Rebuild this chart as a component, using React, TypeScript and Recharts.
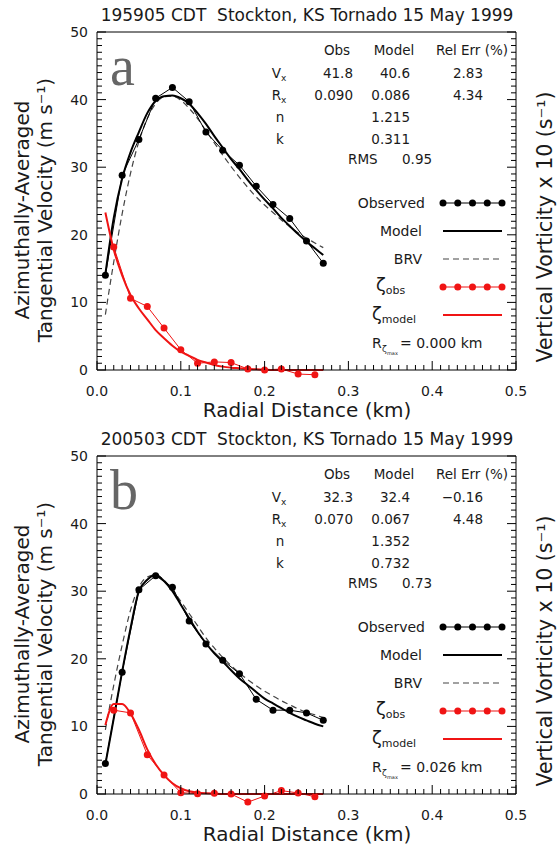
import React from "react";
import { LineChart, Line, XAxis, YAxis } from "recharts";

const W = 557;
const H = 424;
const FONT = "DejaVu Sans";
const INK = "#1a1a1a";
const RED = "#f01414";

// radial distances (km)
const obsRadius = [0.01, 0.03, 0.05, 0.07, 0.09, 0.11, 0.13, 0.15, 0.17, 0.19, 0.21, 0.23, 0.25, 0.27];
const vortRadius = [0.02, 0.04, 0.06, 0.08, 0.1, 0.12, 0.14, 0.16, 0.18, 0.2, 0.22, 0.24, 0.26];
const fitRadius = [
  0.01, 0.02, 0.03, 0.04, 0.05, 0.06, 0.07, 0.08, 0.09, 0.1, 0.11, 0.12, 0.13, 0.14,
  0.15, 0.16, 0.17, 0.18, 0.19, 0.2, 0.21, 0.22, 0.23, 0.24, 0.25, 0.26, 0.27,
];

// panel a : 195905 CDT
const obsVelA = [14.0, 28.8, 34.1, 40.2, 41.8, 39.7, 35.2, 32.5, 30.3, 27.2, 24.5, 22.4, 19.1, 15.8];
const modelVelA = [
  14.2, 22.5, 28.3, 32.2, 35.2, 38.0, 39.8, 40.5, 40.6, 40.2, 39.4, 38.0, 36.4, 34.6,
  32.9, 31.2, 29.7, 28.1, 26.6, 25.2, 23.9, 22.5, 21.3, 20.1, 19.0, 18.0, 17.0,
];
const brvVelA = [
  8.2, 16.0, 23.1, 29.1, 33.8, 37.2, 39.4, 40.4, 40.5, 39.9, 38.7, 37.2, 35.4, 33.6,
  31.8, 30.1, 28.5, 27.0, 25.6, 24.4, 23.3, 22.2, 21.2, 20.3, 19.5, 18.8, 18.1,
];
const vortObsA = [18.2, 10.6, 9.4, 6.2, 3.0, 1.0, 1.2, 1.1, 0.15, 0.0, 0.15, -0.6, -0.7];
const vortModelA = [
  23.3, 17.8, 14.0, 11.1, 9.1, 7.5, 5.9, 4.7, 3.6, 2.7, 2.1, 1.5, 1.1, 0.75,
  0.5, 0.35, 0.25, 0.15, 0.1, 0.05, 0.0, 0.0, 0.0, 0.0, 0.0, 0.0, 0.0,
];

// panel b : 200503 CDT
const obsVelB = [4.5, 18.0, 30.2, 32.3, 30.6, 25.6, 22.2, 19.8, 17.8, 14.0, 12.4, 12.4, 12.0, 10.9];
const modelVelB = [
  4.4, 11.2, 18.1, 24.5, 30.0, 31.7, 32.4, 31.5, 30.0, 28.0, 26.0, 24.0, 22.3, 20.8,
  19.6, 18.3, 17.1, 16.1, 15.1, 14.1, 13.4, 12.7, 12.0, 11.4, 10.9, 10.4, 10.0,
];
const brvVelB = [
  9.5, 16.1, 22.0, 27.2, 30.6, 32.1, 32.4, 31.6, 30.2, 28.5, 26.7, 24.9, 23.1, 21.6,
  20.2, 19.0, 17.9, 16.9, 16.0, 15.2, 14.5, 13.8, 13.2, 12.6, 12.1, 11.7, 11.3,
];
const vortObsB = [12.4, 12.0, 5.8, 2.8, 0.2, 0.05, 0.1, 0.0, -1.2, -0.3, 0.5, 0.15, -0.4];
const vortModelB = [
  10.2, 13.3, 13.3, 11.9, 9.5, 6.6, 4.4, 2.8, 1.6, 0.85, 0.4, 0.2, 0.1, 0.05,
  0.0, 0.0, 0.0, 0.0, 0.0, 0.0, 0.0, 0.0, 0.0, 0.0, 0.0, 0.0, 0.0,
];

// axes
const xTickLabels = ["0.0", "0.1", "0.2", "0.3", "0.4", "0.5"];
const yTickLabels = ["0", "10", "20", "30", "40", "50"];
const xTicks = Array.from({ length: 51 }, (_, i) => i / 100);
const yTicks = Array.from({ length: 51 }, (_, i) => i);

const pts = (rs: number[], vs: number[]) => rs.map((r, i) => ({ r, v: vs[i] }));
const isMajor = (v: number, step: number) => Math.abs(v / step - Math.round(v / step)) < 1e-6;

function BottomTick(p: any) {
  const major = isMajor(p.payload.value, 0.1);
  return (
    <g>
      <line x1={p.x} y1={p.y} x2={p.x} y2={p.y - (major ? 9 : 5)} stroke="#000" />
      {major && (
        <text x={p.x} y={p.y + 26} textAnchor="middle" fontSize={14} fontFamily={FONT} fill={INK}>
          {xTickLabels[Math.round(p.payload.value * 10)]}
        </text>
      )}
    </g>
  );
}

function TopTick(p: any) {
  const major = isMajor(p.payload.value, 0.1);
  return <line x1={p.x} y1={p.y} x2={p.x} y2={p.y + (major ? 9 : 5)} stroke="#000" />;
}

function LeftTick(p: any) {
  const major = isMajor(p.payload.value, 10);
  return (
    <g>
      <line x1={p.x} y1={p.y} x2={p.x + (major ? 9 : 5)} y2={p.y} stroke="#000" />
      {major && (
        <text x={p.x - 9} y={p.y + 5} textAnchor="end" fontSize={14} fontFamily={FONT} fill={INK}>
          {yTickLabels[Math.round(p.payload.value / 10)]}
        </text>
      )}
    </g>
  );
}

function RightTick(p: any) {
  const major = isMajor(p.payload.value, 10);
  return <line x1={p.x} y1={p.y} x2={p.x - (major ? 9 : 5)} y2={p.y} stroke="#000" />;
}

type PanelProps = {
  title: string;
  letter: string;
  obs: number[];
  model: number[];
  brv: number[];
  vortObs: number[];
  vortModel: number[];
  table: { obs: string[]; model: string[]; err: string[]; n: string; k: string; rms: string };
  rzeta: string;
};

function Panel(props: PanelProps) {
  const t = { fontFamily: FONT, fill: INK };
  const legendX1 = 443;
  const legendX2 = 502;
  const dotsX = [443, 457.75, 472.5, 487.25, 502];
  return (
    <div style={{ position: "relative", width: W, height: H }}>
      <LineChart width={W} height={H} margin={{ top: 31, right: 40, bottom: 34, left: 57 }}>
        <XAxis
          xAxisId="b"
          dataKey="r"
          type="number"
          domain={[0, 0.5]}
          allowDataOverflow
          ticks={xTicks}
          interval={0}
          tickSize={0}
          tickMargin={0}
          height={20}
          tick={BottomTick}
          axisLine={{ stroke: "#000" }}
        />
        <XAxis
          xAxisId="t"
          orientation="top"
          type="number"
          domain={[0, 0.5]}
          allowDataOverflow
          ticks={xTicks}
          interval={0}
          tickSize={0}
          tickMargin={0}
          height={1}
          tick={TopTick}
          axisLine={{ stroke: "#000" }}
        />
        <YAxis
          yAxisId="l"
          type="number"
          domain={[0, 50]}
          allowDataOverflow
          ticks={yTicks}
          interval={0}
          tickSize={0}
          tickMargin={0}
          width={40}
          tick={LeftTick}
          axisLine={{ stroke: "#000" }}
        />
        <YAxis
          yAxisId="r"
          orientation="right"
          type="number"
          domain={[0, 50]}
          allowDataOverflow
          ticks={yTicks}
          interval={0}
          tickSize={0}
          tickMargin={0}
          width={1}
          tick={RightTick}
          axisLine={{ stroke: "#000" }}
        />
        <Line
          xAxisId="b"
          yAxisId="l"
          data={pts(fitRadius, props.brv)}
          dataKey="v"
          type="monotone"
          stroke="#444"
          strokeWidth={1.2}
          strokeDasharray="6 4"
          dot={false}
          activeDot={false}
          isAnimationActive={false}
        />
        <Line
          xAxisId="b"
          yAxisId="l"
          data={pts(obsRadius, props.obs)}
          dataKey="v"
          type="linear"
          stroke="#000"
          strokeWidth={1}
          dot={{ r: 3.5, fill: "#000", stroke: "#000", strokeWidth: 0 }}
          activeDot={false}
          isAnimationActive={false}
        />
        <Line
          xAxisId="b"
          yAxisId="l"
          data={pts(fitRadius, props.model)}
          dataKey="v"
          type="monotone"
          stroke="#000"
          strokeWidth={2}
          dot={false}
          activeDot={false}
          isAnimationActive={false}
        />
        <Line
          xAxisId="b"
          yAxisId="l"
          data={pts(vortRadius, props.vortObs)}
          dataKey="v"
          type="linear"
          stroke={RED}
          strokeWidth={1}
          dot={{ r: 3.5, fill: RED, stroke: RED, strokeWidth: 0 }}
          activeDot={false}
          isAnimationActive={false}
        />
        <Line
          xAxisId="b"
          yAxisId="l"
          data={pts(fitRadius, props.vortModel)}
          dataKey="v"
          type="monotone"
          stroke={RED}
          strokeWidth={2}
          dot={false}
          activeDot={false}
          isAnimationActive={false}
        />
      </LineChart>

      <svg width={W} height={H} style={{ position: "absolute", left: 0, top: 0, pointerEvents: "none" }}>
        <text x={307} y={21} textAnchor="middle" fontSize={17} style={{ whiteSpace: "pre" }} {...t}>
          {props.title}
        </text>
        <text x={110} y={85} fontSize={56} fontFamily="Liberation Serif" fill="#666">
          {props.letter}
        </text>

        {/* fit table */}
        <g fontSize={13.5} {...t}>
          <text x={337} y={55} textAnchor="middle">Obs</text>
          <text x={394} y={55} textAnchor="middle">Model</text>
          <text x={472} y={55} textAnchor="middle">Rel Err (%)</text>
          <text x={279} y={78} textAnchor="middle">
            V<tspan fontSize={9} dy={3}>x</tspan>
          </text>
          <text x={279} y={100} textAnchor="middle">
            R<tspan fontSize={9} dy={3}>x</tspan>
          </text>
          <text x={280} y={122} textAnchor="middle">n</text>
          <text x={280} y={144} textAnchor="middle">k</text>
          {props.table.obs.map((s, i) => (
            <text key={"o" + i} x={353} y={78 + i * 22} textAnchor="end">{s}</text>
          ))}
          {props.table.model.map((s, i) => (
            <text key={"m" + i} x={410} y={78 + i * 22} textAnchor="end">{s}</text>
          ))}
          {props.table.err.map((s, i) => (
            <text key={"e" + i} x={483} y={78 + i * 22} textAnchor="end">{s}</text>
          ))}
          <text x={410} y={122} textAnchor="end">{props.table.n}</text>
          <text x={410} y={144} textAnchor="end">{props.table.k}</text>
          <text x={348} y={164}>RMS</text>
          <text x={402} y={164}>{props.table.rms}</text>
        </g>

        {/* legend */}
        <g fontSize={14} {...t}>
          <text x={425} y={208} textAnchor="end">Observed</text>
          <text x={422} y={236} textAnchor="end">Model</text>
          <text x={422} y={264} textAnchor="end">BRV</text>
          <text x={376} y={291} fontSize={18}>
            ζ<tspan fontSize={11} dy={3}>obs</tspan>
          </text>
          <text x={372} y={320} fontSize={18}>
            ζ<tspan fontSize={11} dy={3}>model</tspan>
          </text>
          <text x={372} y={348}>R</text>
          <text x={382} y={352} fontSize={9}>ζ</text>
          <text x={387} y={355} fontSize={5}>max</text>
          <text x={400} y={348}>{"= " + props.rzeta + " km"}</text>
        </g>
        <line x1={legendX1} y1={203} x2={legendX2} y2={203} stroke="#000" strokeWidth={1.2} />
        {dotsX.map((x) => (
          <circle key={"bd" + x} cx={x} cy={203} r={3.5} fill="#000" />
        ))}
        <line x1={legendX1} y1={231} x2={legendX2} y2={231} stroke="#000" strokeWidth={2} />
        <line x1={legendX1} y1={259} x2={legendX2} y2={259} stroke="#444" strokeWidth={1.2} strokeDasharray="6 4" />
        <line x1={legendX1} y1={287} x2={legendX2} y2={287} stroke={RED} strokeWidth={1.2} />
        {dotsX.map((x) => (
          <circle key={"rd" + x} cx={x} cy={287} r={3.5} fill={RED} />
        ))}
        <line x1={legendX1} y1={315} x2={legendX2} y2={315} stroke={RED} strokeWidth={2} />

        {/* axis titles */}
        <g transform="translate(22,210) rotate(-90)">
          <text x={0} y={7} textAnchor="middle" fontSize={20} {...t}>Azimuthally-Averaged</text>
        </g>
        <g transform="translate(45,210) rotate(-90)">
          <text x={0} y={7} textAnchor="middle" fontSize={20} {...t}>Tangential Velocity (m s⁻¹)</text>
        </g>
        <g transform="translate(545,227) rotate(-90)">
          <text x={0} y={7} textAnchor="middle" fontSize={20.5} {...t}>Vertical Vorticity x 10 (s⁻¹)</text>
        </g>
        <text x={307} y={417} textAnchor="middle" fontSize={20} {...t}>Radial Distance (km)</text>
      </svg>
    </div>
  );
}

export default function App() {
  return (
    <div style={{ position: "absolute", left: 0, top: 0, width: W, height: 854, background: "#fff" }}>
      {/* values slightly below zero are drawn just under the axis, as in the original */}
      <style>{`.recharts-line, .recharts-line *, .recharts-line-dots { clip-path: none !important; }`}</style>
      <Panel
        title="195905 CDT  Stockton, KS Tornado 15 May 1999"
        letter="a"
        obs={obsVelA}
        model={modelVelA}
        brv={brvVelA}
        vortObs={vortObsA}
        vortModel={vortModelA}
        table={{ obs: ["41.8", "0.090"], model: ["40.6", "0.086"], err: ["2.83", "4.34"], n: "1.215", k: "0.311", rms: "0.95" }}
        rzeta="0.000"
      />
      <Panel
        title="200503 CDT  Stockton, KS Tornado 15 May 1999"
        letter="b"
        obs={obsVelB}
        model={modelVelB}
        brv={brvVelB}
        vortObs={vortObsB}
        vortModel={vortModelB}
        table={{ obs: ["32.3", "0.070"], model: ["32.4", "0.067"], err: ["−0.16", "4.48"], n: "1.352", k: "0.732", rms: "0.73" }}
        rzeta="0.026"
      />
    </div>
  );
}
